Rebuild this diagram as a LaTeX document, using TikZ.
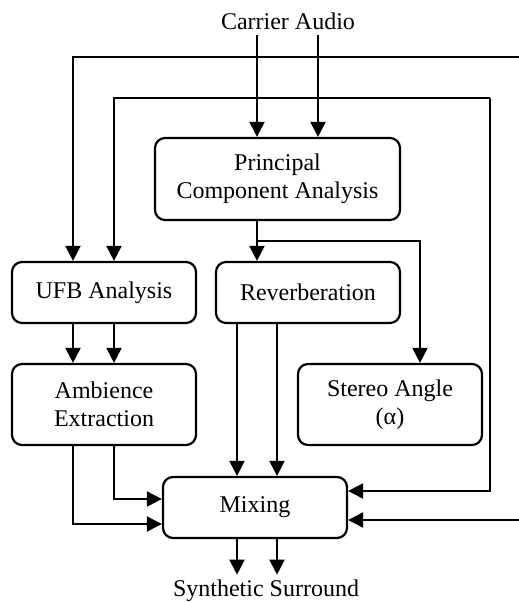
\documentclass[tikz,border=0pt]{standalone}
\usepackage{fontspec}
\setmainfont{Liberation Serif}
\usepackage{tikz}
\usetikzlibrary{arrows.meta,calc}
\newcommand{\linecolor}{black}
\newcommand{\thickness}{1pt}
\newcommand{\boxw}{92pt}
\newcommand{\boxh}{30.5pt}
\tikzset{
  block/.style={draw=\linecolor, line width=1.1pt, rounded corners=5pt, minimum width=\boxw, minimum height=\boxh, align=center, inner sep=0pt, font=\fontsize{12}{13.8}\selectfont},
  label text/.style={inner sep=2.5pt, font=\fontsize{12}{13.8}\selectfont},
  flow/.style={draw=\linecolor, line width=\thickness, -{Triangle[length=7.5pt,width=7.5pt]}},
}

\begin{document}
\begin{tikzpicture}[x=0.5pt,y=-0.5pt]
\useasboundingbox (0,0) rectangle (519,602);
%blocks
\node[label text] (carrier) at (288,21) {Carrier Audio};
\node[block, minimum width=122.5pt, minimum height=41pt] (pca) at (277.5,179) {Principal\\Component Analysis};
\node[block] (ufb) at (104,292.5) {UFB Analysis};
\node[block] (rev) at (308,292.5) {Reverberation};
\node[block, minimum height=40.5pt] (amb) at (104,404.5) {Ambience\\Extraction};
\node[block, minimum height=40.5pt] (angle) at (390,404.5) {Stereo Angle\\(α)};
\node[block] (mix) at (255,507.5) {Mixing};
\node[label text] (surround) at (266,591) {Synthetic Surround};
%columns and rows
\coordinate (xa) at (73,0);
\coordinate (xb) at (114,0);
\coordinate (xc) at (237,0);
\coordinate (xd) at (277,0);
\coordinate (xe) at (257,0);
\coordinate (xf) at (318,0);
\coordinate (xg) at (420,0);
\coordinate (ya) at (0,491);
\coordinate (yb) at (0,499);
\coordinate (yc) at (0,524);
\coordinate (outer1) at (519,57);
\coordinate (outer2) at (519,520);
\coordinate (inner) at (490,98);
\coordinate (split) at (257,241);
%carrier
\draw[flow] (carrier.south -| xe) -- (pca.north -| xe);
\draw[flow] (carrier.south -| xf) -- (pca.north -| xf);
%feedback
\draw[flow] (outer1) -| (ufb.north -| xa);
\draw[flow] (inner) -| (ufb.north -| xb);
\draw[flow] (inner) |- (mix.east |- ya);
\draw[flow] (outer2) -- (mix.east |- outer2);
%pca
\draw[flow] (pca.south -| xe) -- (rev.north -| xe);
\draw[flow] (split) -| (angle.north -| xg);
%ufb
\draw[flow] (ufb.south -| xa) -- (amb.north -| xa);
\draw[flow] (ufb.south -| xb) -- (amb.north -| xb);
%reverberation
\draw[flow] (rev.south -| xc) -- (mix.north -| xc);
\draw[flow] (rev.south -| xd) -- (mix.north -| xd);
%ambience
\draw[flow] (amb.south -| xb) |- (mix.west |- yb);
\draw[flow] (amb.south -| xa) |- (mix.west |- yc);
%mixing
\draw[flow] (mix.south -| xc) -- (surround.north -| xc);
\draw[flow] (mix.south -| xd) -- (surround.north -| xd);
\end{tikzpicture}
\end{document}
